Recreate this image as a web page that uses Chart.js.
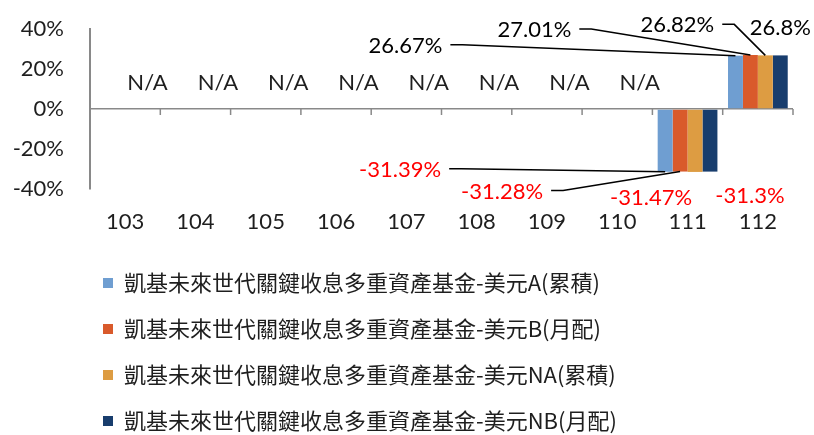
<!DOCTYPE html>
<html>
<head>
<meta charset="utf-8">
<script src="https://cdn.jsdelivr.net/npm/chart.js@4"></script>
<style>
  html, body { margin: 0; padding: 0; background: #fff; }
  #wrap { width: 814px; height: 435px; position: relative; }
</style>
</head>
<body>
<div id="wrap"><canvas id="chart"></canvas></div>
<script>
const categories = ['103', '104', '105', '106', '107', '108', '109', '110', '111', '112'];
const seriesNames = [
    '凱基未來世代關鍵收息多重資產基金-美元A(累積)',
    '凱基未來世代關鍵收息多重資產基金-美元B(月配)',
    '凱基未來世代關鍵收息多重資產基金-美元NA(累積)',
    '凱基未來世代關鍵收息多重資產基金-美元NB(月配)'
];
const valuesA = [null, null, null, null, null, null, null, null, -31.39, 26.67];
const valuesB = [null, null, null, null, null, null, null, null, -31.28, 27.01];
const valuesNA = [null, null, null, null, null, null, null, null, -31.47, 26.82];
const valuesNB = [null, null, null, null, null, null, null, null, -31.3, 26.8];
const yTicks = [-40, -20, 0, 20, 40];

const seriesColors = ['#6F9ED1', '#D95A2B', '#DD9C42', '#183D6D'];
const axisGray = '#898989';
const textColor = '#1e1e1e';
const labelFont = '22px Lato';

// where each value label sits, measured from the bar tip: [dx, dy, leader line]
const labelPlacement = [
    { 8: [-265, -2, true], 9: [-330, -10, true] },
    { 8: [-178, 20, true], 9: [-216, -25, true] },
    { 8: [-44, 26, false], 9: [-88, -30, true] },
    { 8: [40, 24, false], 9: [0, -27, false] }
];

const zeroTicks = {
    id: 'zeroTicks',
    beforeDatasetsDraw(chart) {
        const { ctx, scales: { x, y } } = chart;
        const zy = y.getPixelForValue(0);
        const step = x.width / categories.length;
        ctx.save();
        ctx.strokeStyle = axisGray;
        ctx.lineWidth = 1.5;
        for (let k = 1; k <= categories.length; k++) {
            const px = x.left + k * step;
            ctx.beginPath();
            ctx.moveTo(px, zy);
            ctx.lineTo(px, zy + 6);
            ctx.stroke();
        }
        ctx.restore();
    }
};

const valueLabels = {
    id: 'valueLabels',
    afterDatasetsDraw(chart) {
        const ctx = chart.ctx;
        ctx.save();
        ctx.font = labelFont;
        ctx.textAlign = 'center';
        ctx.textBaseline = 'middle';
        ctx.strokeStyle = '#000';
        ctx.lineWidth = 1.5;
        chart.data.datasets.forEach((ds, di) => {
            const meta = chart.getDatasetMeta(di);
            ds.data.forEach((v, i) => {
                if (v === null) return;
                const bar = meta.data[i];
                const place = labelPlacement[di][i];
                const lx = bar.x + place[0];
                const ly = bar.y + place[1];
                const text = v + '%';
                ctx.fillStyle = v < 0 ? '#FF0000' : '#000';
                ctx.fillText(text, lx, ly);
                if (place[2]) {
                    const sx = lx + ctx.measureText(text).width / 2 + 8;
                    ctx.beginPath();
                    ctx.moveTo(sx, ly - 1);
                    ctx.lineTo(sx + 12, ly - 1);
                    ctx.lineTo(bar.x, bar.y);
                    ctx.stroke();
                }
            });
        });
        // categories without data
        const last = chart.getDatasetMeta(chart.data.datasets.length - 1);
        const zeroY = chart.scales.y.getPixelForValue(0);
        ctx.fillStyle = textColor;
        categories.forEach((c, i) => {
            if (chart.data.datasets.every(ds => ds.data[i] === null)) {
                ctx.fillText('N/A', last.data[i].x, zeroY - 26);
            }
        });
        ctx.restore();
    }
};

const legendIndent = {
    id: 'legendIndent',
    afterLayout(chart) {
        chart.legend.left = 79;
    }
};

const allValues = [valuesA, valuesB, valuesNA, valuesNB];

new Chart(document.getElementById('chart'), {
    type: 'bar',
    data: {
        labels: categories,
        datasets: allValues.map((vals, i) => ({
            label: seriesNames[i],
            data: vals,
            backgroundColor: seriesColors[i],
            borderWidth: 0,
            categoryPercentage: 0.85,
            barPercentage: 1.0
        }))
    },
    options: {
        responsive: true,
        maintainAspectRatio: false,
        animation: false,
        layout: { padding: { top: 29, left: 10, right: 21, bottom: -7 } },
        scales: {
            x: {
                grid: { display: false, drawTicks: false },
                border: { display: false },
                ticks: { color: textColor, font: { family: 'Lato', size: 22 }, padding: 20, maxRotation: 0 },
                afterFit(scale) { scale.height = 59; }
            },
            y: {
                min: -40,
                max: 40,
                afterBuildTicks(scale) { scale.ticks = yTicks.map(v => ({ value: v })); },
                grid: {
                    drawTicks: false,
                    color: c => (c.tick && c.tick.value === 0 ? axisGray : 'rgba(0,0,0,0)'),
                    lineWidth: 1.5
                },
                border: { display: true, color: axisGray, width: 2 },
                ticks: {
                    color: textColor,
                    font: { family: 'Lato', size: 22 },
                    padding: 26,
                    callback: v => v + '%'
                },
                afterFit(scale) {
                    scale.width = 80;
                    scale.paddingTop = 0;
                    scale.paddingBottom = 0;
                }
            }
        },
        plugins: {
            legend: {
                position: 'bottom',
                align: 'start',
                labels: {
                    color: textColor,
                    font: { family: '"Noto Sans CJK TC"', size: 22 },
                    boxWidth: 10,
                    boxHeight: 10,
                    padding: 24
                }
            },
            tooltip: { enabled: false }
        }
    },
    plugins: [zeroTicks, valueLabels, legendIndent]
});
</script>
</body>
</html>
